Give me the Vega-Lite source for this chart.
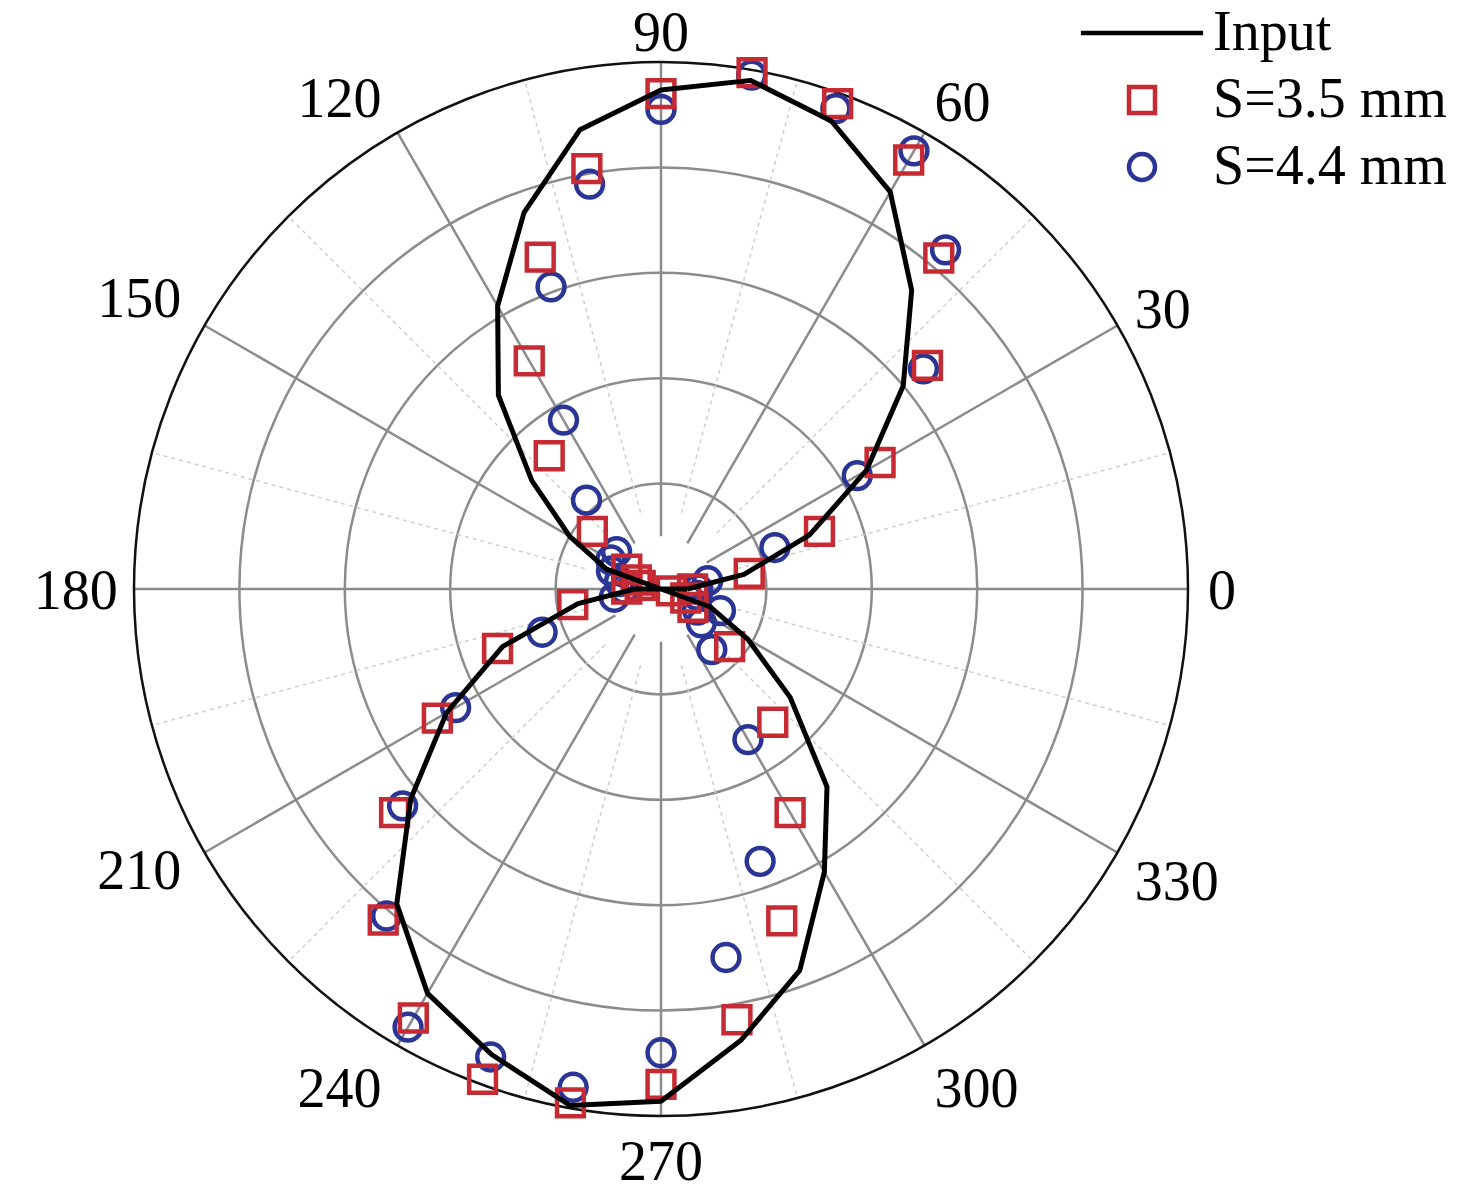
{
  "$schema": "https://vega.github.io/schema/vega-lite/v6.json",
  "width": 1054,
  "height": 1054,
  "autosize": {"type": "none"},
  "padding": {"left": 134, "top": 62, "right": 288, "bottom": 80},
  "background": "white",
  "config": {
    "view": {"stroke": null},
    "legend": {
      "orient": "none",
      "legendX": 980,
      "legendY": -57,
      "padding": 0,
      "title": null,
      "labelFont": "Liberation Serif",
      "labelFontSize": 56,
      "labelColor": "#000000",
      "labelLimit": 500,
      "labelOffset": 43,
      "symbolSize": 676,
      "symbolStrokeWidth": 4.5,
      "rowPadding": 11
    }
  },
  "datasets": {
    "rings": [{"r": 0.2}, {"r": 0.4}, {"r": 0.6}, {"r": 0.8}],
    "outer": [{"r": 1}],
    "major": [{"a": 0}, {"a": 30}, {"a": 60}, {"a": 90}, {"a": 120}, {"a": 150}, {"a": 180}, {"a": 210}, {"a": 240}, {"a": 270}, {"a": 300}, {"a": 330}],
    "minor": [{"a": 15}, {"a": 45}, {"a": 75}, {"a": 105}, {"a": 135}, {"a": 165}, {"a": 195}, {"a": 225}, {"a": 255}, {"a": 285}, {"a": 315}, {"a": 345}],
    "input": [
      {"a": 0, "r": 0.05}, {"a": 10, "r": 0.16}, {"a": 20, "r": 0.30}, {"a": 30, "r": 0.45},
      {"a": 40, "r": 0.60}, {"a": 50, "r": 0.74}, {"a": 60, "r": 0.87}, {"a": 70, "r": 0.945},
      {"a": 80, "r": 0.98}, {"a": 90, "r": 0.947}, {"a": 100, "r": 0.885}, {"a": 110, "r": 0.76},
      {"a": 120, "r": 0.62}, {"a": 130, "r": 0.48}, {"a": 140, "r": 0.32}, {"a": 150, "r": 0.20},
      {"a": 160, "r": 0.11}, {"a": 170, "r": 0.0}, {"a": 180, "r": 0.05}, {"a": 190, "r": 0.16},
      {"a": 200, "r": 0.32}, {"a": 210, "r": 0.47}, {"a": 220, "r": 0.62}, {"a": 230, "r": 0.78},
      {"a": 240, "r": 0.886}, {"a": 250, "r": 0.94}, {"a": 260, "r": 0.995}, {"a": 270, "r": 0.972},
      {"a": 280, "r": 0.87}, {"a": 290, "r": 0.77}, {"a": 300, "r": 0.62}, {"a": 310, "r": 0.49},
      {"a": 320, "r": 0.32}, {"a": 330, "r": 0.19}, {"a": 340, "r": 0.10}, {"a": 350, "r": 0.0},
      {"a": 360, "r": 0.05}
    ],
    "meas": [
      {"s": "S=4.4 mm", "a": 0, "r": 0.07}, {"s": "S=4.4 mm", "a": 10, "r": 0.09}, {"s": "S=4.4 mm", "a": 20, "r": 0.23},
      {"s": "S=4.4 mm", "a": 30, "r": 0.43}, {"s": "S=4.4 mm", "a": 40, "r": 0.65}, {"s": "S=4.4 mm", "a": 50, "r": 0.84},
      {"s": "S=4.4 mm", "a": 60, "r": 0.96}, {"s": "S=4.4 mm", "a": 70, "r": 0.97}, {"s": "S=4.4 mm", "a": 80, "r": 0.99},
      {"s": "S=4.4 mm", "a": 90, "r": 0.91}, {"s": "S=4.4 mm", "a": 100, "r": 0.78}, {"s": "S=4.4 mm", "a": 110, "r": 0.61},
      {"s": "S=4.4 mm", "a": 120, "r": 0.37}, {"s": "S=4.4 mm", "a": 130, "r": 0.22}, {"s": "S=4.4 mm", "a": 140, "r": 0.11},
      {"s": "S=4.4 mm", "a": 150, "r": 0.11}, {"s": "S=4.4 mm", "a": 160, "r": 0.10}, {"s": "S=4.4 mm", "a": 170, "r": 0.08},
      {"s": "S=4.4 mm", "a": 180, "r": 0.07}, {"s": "S=4.4 mm", "a": 190, "r": 0.09}, {"s": "S=4.4 mm", "a": 200, "r": 0.24},
      {"s": "S=4.4 mm", "a": 210, "r": 0.45}, {"s": "S=4.4 mm", "a": 220, "r": 0.64}, {"s": "S=4.4 mm", "a": 230, "r": 0.81},
      {"s": "S=4.4 mm", "a": 240, "r": 0.96}, {"s": "S=4.4 mm", "a": 250, "r": 0.945}, {"s": "S=4.4 mm", "a": 260, "r": 0.96},
      {"s": "S=4.4 mm", "a": 270, "r": 0.88}, {"s": "S=4.4 mm", "a": 280, "r": 0.71}, {"s": "S=4.4 mm", "a": 290, "r": 0.55},
      {"s": "S=4.4 mm", "a": 300, "r": 0.33}, {"s": "S=4.4 mm", "a": 310, "r": 0.15}, {"s": "S=4.4 mm", "a": 320, "r": 0.10},
      {"s": "S=4.4 mm", "a": 330, "r": 0.08}, {"s": "S=4.4 mm", "a": 340, "r": 0.12}, {"s": "S=4.4 mm", "a": 350, "r": 0.07},
      {"s": "S=3.5 mm", "a": 0, "r": 0.06}, {"s": "S=3.5 mm", "a": 10, "r": 0.17}, {"s": "S=3.5 mm", "a": 20, "r": 0.32},
      {"s": "S=3.5 mm", "a": 30, "r": 0.48}, {"s": "S=3.5 mm", "a": 40, "r": 0.66}, {"s": "S=3.5 mm", "a": 50, "r": 0.82},
      {"s": "S=3.5 mm", "a": 60, "r": 0.94}, {"s": "S=3.5 mm", "a": 70, "r": 0.98}, {"s": "S=3.5 mm", "a": 80, "r": 0.995},
      {"s": "S=3.5 mm", "a": 90, "r": 0.94}, {"s": "S=3.5 mm", "a": 100, "r": 0.81}, {"s": "S=3.5 mm", "a": 110, "r": 0.67},
      {"s": "S=3.5 mm", "a": 120, "r": 0.50}, {"s": "S=3.5 mm", "a": 130, "r": 0.33}, {"s": "S=3.5 mm", "a": 140, "r": 0.17},
      {"s": "S=3.5 mm", "a": 150, "r": 0.075}, {"s": "S=3.5 mm", "a": 160, "r": 0.05}, {"s": "S=3.5 mm", "a": 170, "r": 0.04},
      {"s": "S=3.5 mm", "a": 180, "r": 0.065}, {"s": "S=3.5 mm", "a": 190, "r": 0.17}, {"s": "S=3.5 mm", "a": 200, "r": 0.33},
      {"s": "S=3.5 mm", "a": 210, "r": 0.49}, {"s": "S=3.5 mm", "a": 220, "r": 0.66}, {"s": "S=3.5 mm", "a": 230, "r": 0.82},
      {"s": "S=3.5 mm", "a": 240, "r": 0.94}, {"s": "S=3.5 mm", "a": 250, "r": 0.99}, {"s": "S=3.5 mm", "a": 260, "r": 0.99},
      {"s": "S=3.5 mm", "a": 270, "r": 0.94}, {"s": "S=3.5 mm", "a": 280, "r": 0.83}, {"s": "S=3.5 mm", "a": 290, "r": 0.67},
      {"s": "S=3.5 mm", "a": 300, "r": 0.49}, {"s": "S=3.5 mm", "a": 310, "r": 0.33}, {"s": "S=3.5 mm", "a": 320, "r": 0.17},
      {"s": "S=3.5 mm", "a": 330, "r": 0.07}, {"s": "S=3.5 mm", "a": 340, "r": 0.05}, {"s": "S=3.5 mm", "a": 350, "r": 0.02}
    ]
  },
  "layer": [
    {
      "data": {"name": "rings"},
      "mark": {"type": "arc", "theta": 0, "theta2": 6.2832, "filled": false, "color": "#8c8c8c", "strokeWidth": 2.5},
      "encoding": {
        "radius": {"field": "r", "type": "quantitative", "stack": null, "scale": {"type": "linear", "domain": [0, 1], "range": [0, 527], "zero": true}}
      }
    },
    {
      "data": {"name": "minor"},
      "transform": [
        {"calculate": "0.15*cos(datum.a*PI/180)", "as": "x"},
        {"calculate": "0.15*sin(datum.a*PI/180)", "as": "y"},
        {"calculate": "cos(datum.a*PI/180)", "as": "x2"},
        {"calculate": "sin(datum.a*PI/180)", "as": "y2"}
      ],
      "mark": {"type": "rule", "color": "#cfcfcf", "strokeWidth": 1.5, "strokeDash": [4, 4]},
      "encoding": {
        "x": {"field": "x", "type": "quantitative", "scale": {"domain": [-1, 1], "nice": false, "zero": false}, "axis": null},
        "y": {"field": "y", "type": "quantitative", "scale": {"domain": [-1, 1], "nice": false, "zero": false}, "axis": null},
        "x2": {"field": "x2"},
        "y2": {"field": "y2"}
      }
    },
    {
      "data": {"name": "major"},
      "transform": [
        {"calculate": "0.1*cos(datum.a*PI/180)", "as": "x"},
        {"calculate": "0.1*sin(datum.a*PI/180)", "as": "y"},
        {"calculate": "cos(datum.a*PI/180)", "as": "x2"},
        {"calculate": "sin(datum.a*PI/180)", "as": "y2"}
      ],
      "mark": {"type": "rule", "color": "#8c8c8c", "strokeWidth": 2.5},
      "encoding": {
        "x": {"field": "x", "type": "quantitative", "scale": {"domain": [-1, 1], "nice": false, "zero": false}, "axis": null},
        "y": {"field": "y", "type": "quantitative", "scale": {"domain": [-1, 1], "nice": false, "zero": false}, "axis": null},
        "x2": {"field": "x2"},
        "y2": {"field": "y2"}
      }
    },
    {
      "data": {"name": "outer"},
      "mark": {"type": "arc", "theta": 0, "theta2": 6.2832, "filled": false, "color": "#111111", "strokeWidth": 2.5},
      "encoding": {
        "radius": {"field": "r", "type": "quantitative", "stack": null, "scale": {"type": "linear", "domain": [0, 1], "range": [0, 527], "zero": true}}
      }
    },
    {
      "data": {"name": "meas"},
      "transform": [
        {"calculate": "datum.r*cos(datum.a*PI/180)", "as": "x"},
        {"calculate": "datum.r*sin(datum.a*PI/180)", "as": "y"}
      ],
      "mark": {"type": "point", "filled": false, "strokeWidth": 4.5, "size": 720, "opacity": 1},
      "encoding": {
        "x": {"field": "x", "type": "quantitative", "scale": {"domain": [-1, 1], "nice": false, "zero": false}, "axis": null},
        "y": {"field": "y", "type": "quantitative", "scale": {"domain": [-1, 1], "nice": false, "zero": false}, "axis": null},
        "color": {"field": "s", "type": "nominal", "title": null,
          "scale": {"domain": ["Input", "S=3.5 mm", "S=4.4 mm"], "range": ["#000000", "#c62a32", "#2b3595"]}},
        "shape": {"field": "s", "type": "nominal", "title": null,
          "scale": {"domain": ["Input", "S=3.5 mm", "S=4.4 mm"], "range": ["M-4.7,0H4.7", "square", "circle"]}}
      }
    },
    {
      "data": {"name": "input"},
      "transform": [
        {"calculate": "datum.r*cos(datum.a*PI/180)", "as": "x"},
        {"calculate": "datum.r*sin(datum.a*PI/180)", "as": "y"}
      ],
      "mark": {"type": "line", "color": "#000000", "strokeWidth": 5, "strokeJoin": "round"},
      "encoding": {
        "x": {"field": "x", "type": "quantitative", "scale": {"domain": [-1, 1], "nice": false, "zero": false}, "axis": null},
        "y": {"field": "y", "type": "quantitative", "scale": {"domain": [-1, 1], "nice": false, "zero": false}, "axis": null},
        "order": {"field": "a", "type": "quantitative"}
      }
    },
    {
      "data": {"name": "major"},
      "transform": [
        {"calculate": "toString(datum.a)", "as": "label"},
        {"calculate": "cos(datum.a*PI/180)", "as": "c"},
        {"calculate": "sin(datum.a*PI/180)", "as": "sn"},
        {"calculate": "1.038*datum.c + (datum.c > 0.1 ? 14 : (datum.c < -0.95 ? -12.7 : (datum.c < -0.1 ? -16 : 0)))*length(datum.label)/527", "as": "x"},
        {"calculate": "1.038*datum.sn + (datum.sn > 0.7 ? 19 : (datum.sn < -0.7 ? -19 : (datum.sn > 0.1 ? 12 : (datum.sn < -0.1 ? -12 : 0))))/527 - (abs(datum.sn) > 0.1 ? 5 : 0)/527 + (datum.c < -0.1 && abs(datum.sn) > 0.1 && abs(datum.sn) < 0.7 ? 11 : 0)/527 + (datum.c < -0.1 && datum.sn > 0.7 ? 4 : 0)/527 - (datum.sn > 0.95 ? 3 : 0)/527", "as": "y"}
      ],
      "mark": {"type": "text", "font": "Liberation Serif", "fontSize": 56, "color": "#000000", "align": "center", "baseline": "middle", "dy": 3},
      "encoding": {
        "x": {"field": "x", "type": "quantitative", "scale": {"domain": [-1, 1], "nice": false, "zero": false}, "axis": null},
        "y": {"field": "y", "type": "quantitative", "scale": {"domain": [-1, 1], "nice": false, "zero": false}, "axis": null},
        "text": {"field": "label", "type": "nominal"}
      }
    }
  ]
}
